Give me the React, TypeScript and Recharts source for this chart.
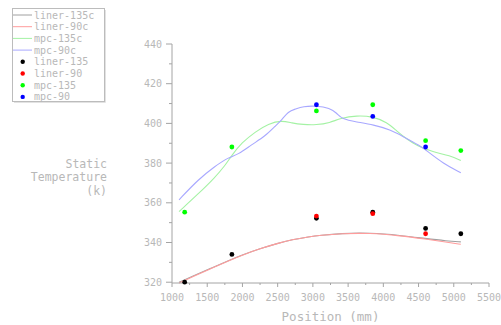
import React from "react";
import { ComposedChart, Line, Scatter, XAxis, YAxis } from "recharts";

// ---- data ----
const liner135c: [number, number][] = [
  [1100, 320.0], [1300, 323.2], [1550, 327.0], [1800, 330.9], [2000, 333.8], [2250, 336.9],
  [2500, 339.6], [2700, 341.4], [2950, 342.9], [3100, 343.6], [3400, 344.6], [3800, 344.9],
  [4250, 343.6], [4600, 342.0], [4900, 340.8], [5100, 340.3],
];
const liner90c: [number, number][] = [
  [1100, 319.6], [1300, 322.9], [1550, 326.8], [1800, 330.8], [2000, 333.7], [2250, 336.9],
  [2500, 339.6], [2700, 341.4], [2950, 342.9], [3100, 343.6], [3400, 344.5], [3800, 344.8],
  [4250, 343.4], [4600, 341.7], [4900, 340.2], [5100, 339.1],
];
const mpc135c: [number, number][] = [
  [1100, 355.6], [1370, 364.4], [1610, 372.8], [1750, 378.6], [1850, 384.0], [1990, 390.3],
  [2180, 395.7], [2370, 399.9], [2560, 401.5], [2700, 400.2], [2860, 399.4], [3050, 399.2],
  [3240, 400.3], [3390, 402.6], [3620, 404.0], [3860, 403.4], [4050, 400.6], [4190, 396.2],
  [4330, 392.2], [4480, 388.6], [4700, 385.6], [4950, 383.8], [5100, 381.3],
];
const mpc90c: [number, number][] = [
  [1100, 361.5], [1370, 371.7], [1610, 378.4], [1800, 382.9], [1940, 384.3], [2130, 389.3],
  [2320, 393.5], [2460, 398.5], [2560, 401.8], [2650, 406.0], [2750, 407.2], [2860, 408.6],
  [3050, 408.9], [3240, 407.7], [3340, 405.2], [3410, 402.2], [3620, 400.7], [3860, 399.3],
  [4100, 396.8], [4280, 393.4], [4520, 388.8], [4620, 386.1], [4850, 379.8], [5100, 375.1],
];
const liner135: [number, number][] = [
  [1180, 320.0], [1850, 334.0], [3050, 352.2], [3850, 355.3], [4600, 347.1], [5100, 344.4],
];
const liner90: [number, number][] = [
  [3050, 353.3], [3850, 354.5], [4600, 344.4],
];
const mpc135: [number, number][] = [
  [1180, 355.3], [1850, 388.1], [3050, 406.3], [3850, 409.4], [4600, 391.3], [5100, 386.3],
];
const mpc90: [number, number][] = [
  [3050, 409.4], [3850, 403.5], [4600, 388.1],
];

const xTicks = [1000, 1250, 1500, 1750, 2000, 2250, 2500, 2750, 3000, 3250, 3500, 3750, 4000, 4250, 4500, 4750, 5000, 5250, 5500];
const yTicks = [320, 330, 340, 350, 360, 370, 380, 390, 400, 410, 420, 430, 440];
const xMajorStep = 500;
const yMajorStep = 20;

const lineSeries = [
  { name: "liner-135c", data: liner135c, color: "#a0a0a0" },
  { name: "liner-90c", data: liner90c, color: "#ff9c9c" },
  { name: "mpc-135c", data: mpc135c, color: "#a4f2a4" },
  { name: "mpc-90c", data: mpc90c, color: "#a8a8ff" },
];
const pointSeries = [
  { name: "liner-135", data: liner135, color: "#000000" },
  { name: "liner-90", data: liner90, color: "#ff0000" },
  { name: "mpc-135", data: mpc135, color: "#00ff00" },
  { name: "mpc-90", data: mpc90, color: "#0000ff" },
];

const toRows = (d: [number, number][]) => d.map(([x, v]) => ({ x, v }));

const FONT = "'DejaVu Sans Mono', monospace";
const TXT = "#b8b8b8";
const AXIS = "#a4a4a4";

const XTick = (props: any) => {
  const { x, y, payload } = props;
  const major = payload.value % xMajorStep === 0;
  return (
    <g>
      <line x1={x} x2={x} y1={y} y2={y + (major ? 4 : 2)} stroke={AXIS} strokeWidth={1} />
      {major && (
        <text x={x} y={y + 18} textAnchor="middle" fontFamily={FONT} fontSize={10} fill={TXT}>
          {payload.value}
        </text>
      )}
    </g>
  );
};

const YTick = (props: any) => {
  const { x, y, payload } = props;
  const major = payload.value % yMajorStep === 0;
  return (
    <g>
      <line x1={x - (major ? 6 : 3)} x2={x} y1={y} y2={y} stroke={AXIS} strokeWidth={1} />
      {major && (
        <text x={x - 10} y={y + 3.5} textAnchor="end" fontFamily={FONT} fontSize={10} fill={TXT}>
          {payload.value}
        </text>
      )}
    </g>
  );
};

const dotShape = (color: string) => (props: any) => (
  <circle cx={props.cx} cy={props.cy} r={2.4} fill={color} />
);

export default function App() {
  const rowH = 11.7;
  return (
    <div style={{ position: "absolute", left: 0, top: 0, width: 501, height: 325, background: "#fff" }}>
      <ComposedChart width={501} height={325} margin={{ top: 44, right: 12, left: 0, bottom: 0 }}>
        <XAxis
          dataKey="x"
          type="number"
          domain={[1000, 5500]}
          ticks={xTicks}
          interval={0}
          height={42}
          tickSize={0}
          tickMargin={0}
          tickLine={false}
          axisLine={{ stroke: AXIS }}
          tick={<XTick />}
          allowDuplicatedCategory={false}
        />
        <YAxis
          dataKey="v"
          type="number"
          domain={[320, 440]}
          ticks={yTicks}
          interval={0}
          width={172}
          tickSize={0}
          tickMargin={0}
          tickLine={false}
          axisLine={{ stroke: AXIS }}
          tick={<YTick />}
        />
        {lineSeries.map((s) => (
          <Line
            key={s.name}
            name={s.name}
            data={toRows(s.data)}
            dataKey="v"
            type="basis"
            stroke={s.color}
            strokeWidth={1.1}
            dot={false}
            activeDot={false}
            isAnimationActive={false}
          />
        ))}
        {pointSeries.map((s) => (
          <Scatter
            key={s.name}
            name={s.name}
            data={toRows(s.data)}
            dataKey="v"
            fill={s.color}
            shape={dotShape(s.color)}
            isAnimationActive={false}
          />
        ))}
      </ComposedChart>
      <svg
        width={501}
        height={325}
        style={{ position: "absolute", left: 0, top: 0, pointerEvents: "none" }}
      >
        <rect x={12.5} y={8.5} width={92} height={93} fill="none" stroke="#bcbcbc" strokeWidth={1} />
        <line x1={105.5} x2={105.5} y1={10} y2={102.5} stroke="#e2e2e2" strokeWidth={1} />
        <line x1={14} x2={105.5} y1={102.5} y2={102.5} stroke="#e2e2e2" strokeWidth={1} />
        {lineSeries.map((s, i) => (
          <g key={s.name}>
            <line x1={13} x2={32} y1={15 + i * rowH} y2={15 + i * rowH} stroke={s.color} strokeWidth={1} />
            <text x={34} y={15 + i * rowH + 3.5} fontFamily={FONT} fontSize={10} fill={TXT}>
              {s.name}
            </text>
          </g>
        ))}
        {pointSeries.map((s, j) => {
          const i = j + 4;
          return (
            <g key={s.name}>
              <circle cx={22.7} cy={15 + i * rowH} r={2.2} fill={s.color} />
              <text x={34} y={15 + i * rowH + 3.5} fontFamily={FONT} fontSize={10} fill={TXT}>
                {s.name}
              </text>
            </g>
          );
        })}
        <text textAnchor="end" fontFamily={FONT} fontSize={11.5} fill={TXT}>
          <tspan x={107} y={168}>Static</tspan>
          <tspan x={107} y={181}>Temperature</tspan>
          <tspan x={107} y={195}>(k)</tspan>
        </text>
        <text x={330.5} y={321} textAnchor="middle" fontFamily={FONT} fontSize={12.5} fill={TXT}>
          Position (mm)
        </text>
      </svg>
    </div>
  );
}
